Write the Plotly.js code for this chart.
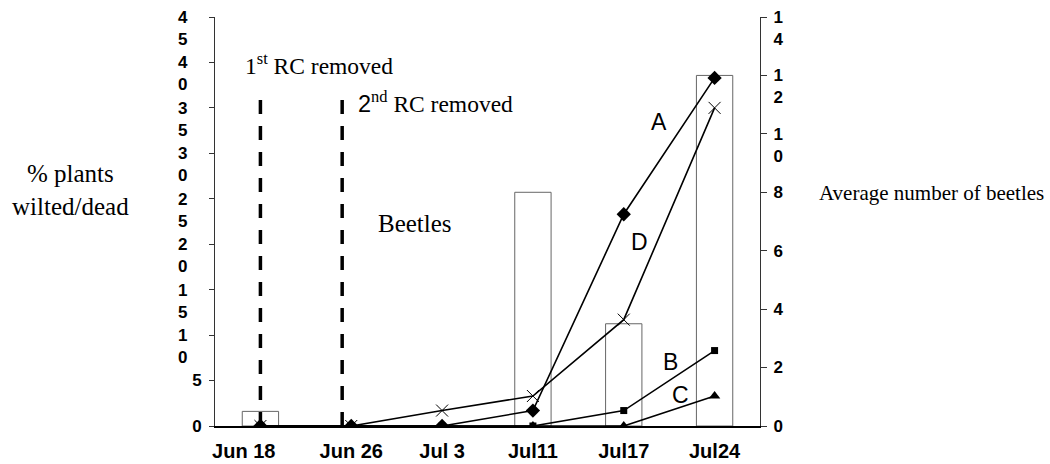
<!DOCTYPE html>
<html><head><meta charset="utf-8">
<script src="https://cdn.plot.ly/plotly-3.0.1.min.js"></script>
<style>html,body{margin:0;padding:0;background:#fff}</style>
</head><body><div id="chart" style="width:1050px;height:464px"></div>
<script>
const dates = ["Jun 18","Jun 26","Jul 3","Jul11","Jul17","Jul24"];
const beetles = [0.5, 0, 0, 8, 3.5, 12];
const seriesA = [0, 0, 0, 1.7, 23.3, 38.3];
const seriesB = [0, 0, 0, 0, 1.7, 8.3];
const seriesC = [0, 0, 0, 0, 0, 3.3];
const seriesD = [0, 0, 1.7, 3.3, 11.7, 35];
const pctTickVals = [0, 5, 10, 15, 20, 25, 30, 35, 40, 45];
const pctTickText = ["0","5","1<br>0","1<br>5","2<br>0","2<br>5","3<br>0","3<br>5","4<br>0","4<br>5"];
const beetleTickVals = [0, 2, 4, 6, 8, 10, 12, 14];
const beetleTickText = ["0","2","4","6","8","1<br>0","1<br>2","1<br>4"];
const seriesNames = ["A","B","C","D"];

const NB = '\u00a0';
const pad = n => NB.repeat(n);
// wrapped labels: first line sits at the tick, like the original
const leftText = pctTickText.map(t => t.indexOf('<br>') >= 0
  ? t.split('<br>').map(s => s + pad(3)).join('<br>')
  : t + '<br>' + NB);
const rightText = beetleTickText.map(t => t.indexOf('<br>') >= 0 ? t : t + '<br>' + NB);
const xTickText = dates.map((d, i) => i === 0 ? d + pad(6) : d);

const sans = 'Liberation Sans, Arial, sans-serif';
const serif = 'Liberation Serif, Times New Roman, serif';

const lineStyle = {color: 'black', width: 1.6};
const traces = [
  {type: 'bar', x: dates, y: beetles, yaxis: 'y', width: 0.4, name: 'Beetles',
   marker: {color: 'white', line: {color: '#666', width: 1}}, hoverinfo: 'y'},
  {type: 'scatter', mode: 'lines+markers', x: dates, y: seriesA, yaxis: 'y2', name: seriesNames[0],
   line: lineStyle, marker: {symbol: 'diamond', size: 11, color: 'black'}},
  {type: 'scatter', mode: 'lines+markers', x: dates, y: seriesB, yaxis: 'y2', name: seriesNames[1],
   line: lineStyle, marker: {symbol: 'square', size: 7, color: 'black'}},
  {type: 'scatter', mode: 'lines+markers', x: dates, y: seriesC, yaxis: 'y2', name: seriesNames[2],
   line: lineStyle, marker: {symbol: 'triangle-up', size: 10, color: 'black'}},
  {type: 'scatter', mode: 'lines+markers', x: dates, y: seriesD, yaxis: 'y2', name: seriesNames[3],
   line: lineStyle, marker: {symbol: 'x-thin-open', size: 12, color: 'black', line: {color: 'black', width: 1}}}
];

const tickFont = {family: sans, size: 17, color: 'black', weight: 'bold'};

const layout = {
  width: 1050, height: 464,
  margin: {l: 215, r: 290, t: 17, b: 38},
  paper_bgcolor: 'white', plot_bgcolor: 'white',
  showlegend: false,
  xaxis: {type: 'category', range: [-0.5, 5.5], tickmode: 'array', tickvals: dates, ticktext: xTickText,
    showline: true, linecolor: 'black', linewidth: 2,
    ticks: '', showgrid: false, zeroline: false, ticklabelstandoff: 6,
    tickfont: {family: sans, size: 20, color: 'black', weight: 'bold'}},
  yaxis: {side: 'right', range: [0, 14], tickmode: 'array', tickvals: beetleTickVals, ticktext: rightText,
    ticks: 'outside', ticklen: 6, tickcolor: '#333', showline: true, linecolor: '#333', linewidth: 1,
    showgrid: false, zeroline: false, tickfont: tickFont, ticklabelshift: 11, ticklabelstandoff: 3,
    ticklabeloverflow: 'allow'},
  yaxis2: {overlaying: 'y', side: 'left', range: [0, 45], tickmode: 'array', tickvals: pctTickVals, ticktext: leftText,
    ticks: 'outside', ticklen: 5, tickcolor: '#333', showline: true, linecolor: '#333', linewidth: 1,
    showgrid: false, zeroline: false, tickfont: tickFont, ticklabelshift: 11, ticklabelstandoff: 4,
    ticklabeloverflow: 'allow'},
  yaxis3: {overlaying: 'y', anchor: 'x', side: 'right', range: [0, 14], tickmode: 'array', tickvals: beetleTickVals,
    ticks: 'inside', ticklen: 6, tickcolor: '#333', showticklabels: false, showline: false,
    showgrid: false, zeroline: false},
  shapes: [
    {type: 'line', xref: 'x', yref: 'y2', x0: 0, x1: 0, y0: 0, y1: 36.6, layer: 'above',
     line: {color: 'black', width: 3.5, dash: '14px,12px'}},
    {type: 'line', xref: 'x', yref: 'y2', x0: 0.9, x1: 0.9, y0: 0, y1: 36.4, layer: 'above',
     line: {color: 'black', width: 3.5, dash: '14px,12px'}}
  ],
  annotations: [
    {xref: 'paper', yref: 'paper', x: -0.265, y: 0.578, xanchor: 'center', yanchor: 'middle', showarrow: false,
     text: '% plants<br>wilted/dead', font: {family: serif, size: 25, color: 'black'}},
    {xref: 'paper', yref: 'paper', x: 1.1046, y: 0.570, xanchor: 'left', yanchor: 'middle', showarrow: false,
     text: 'Average number of beetles', font: {family: serif, size: 21, color: 'black'}},
    {xref: 'x', yref: 'y2', x: -0.19, y: 39.8, xanchor: 'left', yanchor: 'middle', showarrow: false,
     text: '1<sup>st</sup> RC removed', font: {family: serif, size: 23.5, color: 'black'}},
    {xref: 'x', yref: 'y2', x: 1.055, y: 35.6, xanchor: 'left', yanchor: 'middle', showarrow: false,
     text: '<span style="font-family:Liberation Sans, Arial">2</span><sup>nd</sup> RC removed', font: {family: serif, size: 23.5, color: 'black'}},
    {xref: 'x', yref: 'y2', x: 1.273, y: 22.3, xanchor: 'left', yanchor: 'middle', showarrow: false,
     text: 'Beetles', font: {family: serif, size: 25, color: 'black'}},
    {xref: 'x', yref: 'y2', x: 4.39, y: 33.4, showarrow: false, text: seriesNames[0], font: {family: sans, size: 23, color: 'black'}},
    {xref: 'x', yref: 'y2', x: 4.52, y: 7.0, showarrow: false, text: seriesNames[1], font: {family: sans, size: 23, color: 'black'}},
    {xref: 'x', yref: 'y2', x: 4.62, y: 3.36, showarrow: false, text: seriesNames[2], font: {family: sans, size: 23, color: 'black'}},
    {xref: 'x', yref: 'y2', x: 4.168, y: 20.2, showarrow: false, text: seriesNames[3], font: {family: sans, size: 23, color: 'black'}}
  ]
};

Plotly.newPlot('chart', traces, layout, {displayModeBar: false, staticPlot: true});
</script>
</body></html>
